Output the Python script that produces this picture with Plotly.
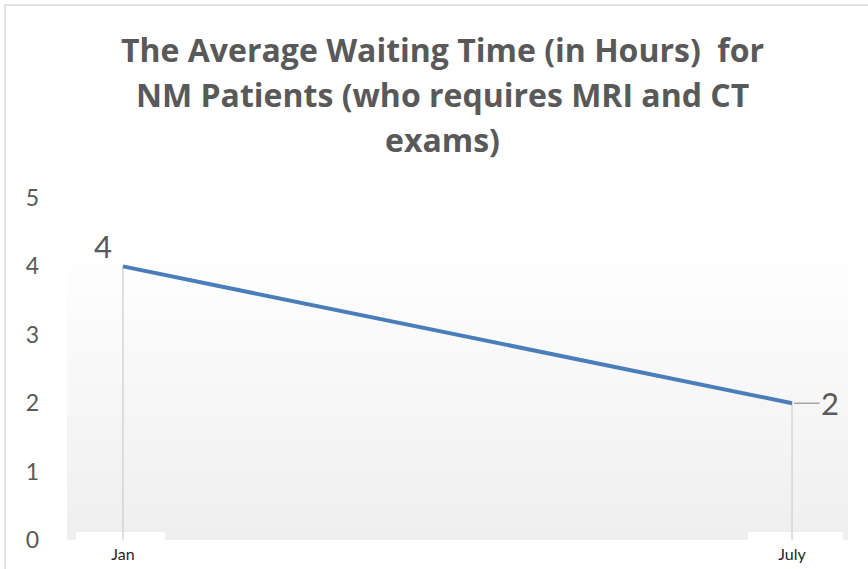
import plotly.graph_objects as go

months = ["Jan", "July"]
wait_hours = [4, 2]
y_ticks = [0, 1, 2, 3, 4, 5]
title_lines = ["The Average Waiting Time (in Hours)  for",
               "NM Patients (who requires MRI and CT",
               "exams)"]

W, H = 868, 569
ML, MR, MT, MB = 67, 20, 198, 29
PW = W - ML - MR
PH = H - MT - MB

def px_x(p):
    return (p - ML) / PW

def px_y(p):
    return (H - MB - p) / PH

FONT = "Lato"
TFONT = "Open Sans"
GRAY = "#595959"

fig = go.Figure()

# drop lines
dx, dy = [], []
for i, v in enumerate(wait_hours):
    dx += [i, i, None]
    dy += [v, 0, None]
fig.add_trace(go.Scatter(x=dx, y=dy, mode="lines",
                         line=dict(color="#d0d0d0", width=1.3),
                         hoverinfo="skip", showlegend=False))

fig.add_trace(go.Scatter(x=list(range(len(months))), y=wait_hours, mode="lines",
                         line=dict(color="#4A7EBB", width=4),
                         showlegend=False))

shapes = []
# border
shapes.append(dict(type="rect", xref="paper", yref="paper",
                   x0=px_x(5), x1=px_x(875), y0=px_y(580), y1=px_y(5),
                   line=dict(color="#d9d9d9", width=1.5), fillcolor="rgba(0,0,0,0)",
                   layer="below"))
# gradient plot area
n = 40
top = px_y(240)
for k in range(n):
    y0 = top * k / n
    y1 = top * (k + 1) / n
    t = k / (n - 1)  # 0 bottom -> 1 top
    c = int(round(239 + (255 - 239) * t))
    shapes.append(dict(type="rect", xref="paper", yref="paper",
                       x0=0, x1=1, y0=y0, y1=y1 + 0.002,
                       line=dict(width=0), fillcolor=f"rgb({c},{c},{c})",
                       layer="below"))
# white label boxes
for a, b in [(76, 165), (748, 843)]:
    shapes.append(dict(type="rect", xref="paper", yref="paper",
                       x0=px_x(a), x1=px_x(b), y0=px_y(580), y1=px_y(532),
                       line=dict(width=0), fillcolor="white", layer="below"))

annotations = []
for txt, yp in zip(title_lines, [49, 94, 139]):
    annotations.append(dict(text=f"<b>{txt}</b>", xref="paper", yref="paper",
                            x=px_x(442), y=px_y(yp), showarrow=False,
                            xanchor="center", yanchor="middle",
                            font=dict(family=TFONT, size=32, color=GRAY)))
# data labels
annotations.append(dict(text=str(wait_hours[0]), x=0, y=wait_hours[0],
                        xref="x", yref="y", showarrow=False,
                        xshift=-20, yshift=20,
                        font=dict(family=FONT, size=31, color=GRAY)))
annotations.append(dict(text=str(wait_hours[1]), x=1, y=wait_hours[1],
                        xref="x", yref="y", showarrow=True, arrowhead=0,
                        ax=38, ay=0, arrowcolor="#a6a6a6", arrowwidth=1.5,
                        standoff=2,
                        font=dict(family=FONT, size=31, color=GRAY)))

fig.update_layout(
    width=W, height=H,
    margin=dict(l=ML, r=MR, t=MT, b=MB, autoexpand=False),
    paper_bgcolor="white", plot_bgcolor="rgba(0,0,0,0)",
    shapes=shapes, annotations=annotations,
    xaxis=dict(range=[-0.0836, 1.0836], tickvals=list(range(len(months))),
               ticktext=months, showgrid=False, zeroline=False, showline=False,
               ticks="", tickfont=dict(family=FONT, size=16, color="#262626"),
               ticklabelstandoff=3, automargin=False),
    yaxis=dict(range=[0, 5], tickvals=y_ticks, showgrid=False, zeroline=False,
               showline=False, ticks="", ticklabelstandoff=27, automargin=False,
               tickfont=dict(family=FONT, size=23, color=GRAY)),
)

fig.write_html("out.html", config={"displayModeBar": False},
               post_script="document.body.style.margin='0';document.body.style.padding='0';")
